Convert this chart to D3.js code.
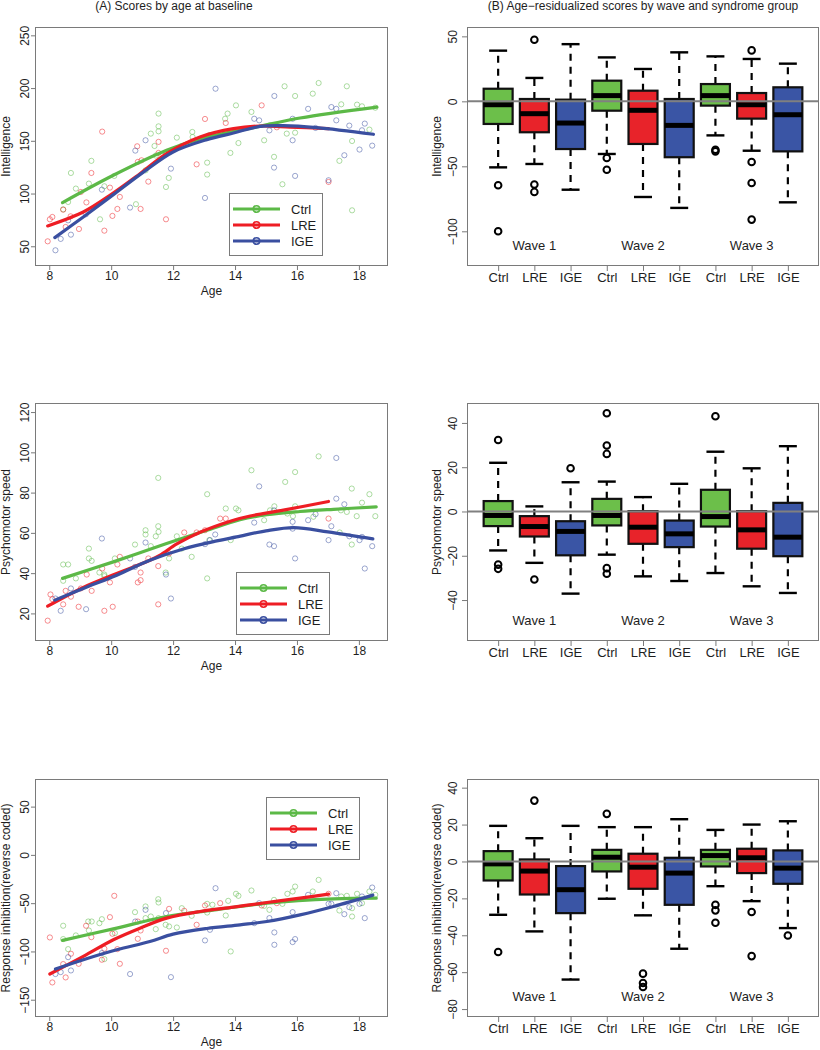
<!DOCTYPE html>
<html><head><meta charset="utf-8">
<script src="https://cdn.jsdelivr.net/npm/d3@7/dist/d3.min.js"></script>
<style>
html,body{margin:0;padding:0;background:#fff;}
svg{display:block;font-family:"Liberation Sans",Arial,sans-serif;}
</style></head><body>
<svg id="chart" width="820" height="1050"></svg>
<script>
// ---------------- DATA ----------------
const groups = ["Ctrl", "LRE", "IGE"];
const boxLabels = ["Ctrl","LRE","IGE","Ctrl","LRE","IGE","Ctrl","LRE","IGE"];
const waveLabels = ["Wave 1", "Wave 2", "Wave 3"];
const ageTicks = [8, 10, 12, 14, 16, 18];

// Panel A1: Intelligence  [age, score]
const intelCtrl = [[8.45,85],[8.61,92],[8.7,119.5],[8.86,104.7],[9.28,109.4],[9.36,131],[9.64,75.6],[9.78,106.9],[10.1,116.7],[10.8,89.9],[11.11,122],[11.28,156.8],[11.4,145.1],[11.44,136],[11.53,175.8],[11.53,163.7],[11.53,159],[11.77,106.2],[11.86,114.8],[12.12,153],[12.27,145],[12.62,158.4],[12.63,153.6],[13.1,129.3],[13.1,118],[13.16,155.2],[13.68,170.9],[13.76,175.8],[13.85,138.5],[14.03,183.6],[14.11,147.9],[14.53,177.4],[14.94,150.5],[15.13,164.7],[15.26,134.8],[15.53,108.8],[15.6,201.7],[15.67,156.8],[15.94,157.7],[15.94,192.5],[16.51,194.7],[16.7,204.8],[17.37,131],[17.43,184.6],[17.61,201.7],[17.78,149.8],[17.78,84.1],[17.94,184.3],[18.1,182.7],[18.34,160.6],[18.53,181.4]];
const intelLRE = [[7.95,54.7],[8.02,75.6],[8.1,77.8],[8.45,84.7],[8.53,68.3],[8.69,78.4],[8.96,66.4],[9.02,101.5],[9.2,91.6],[9.36,119.5],[9.71,158.7],[9.78,64.8],[9.96,105.6],[10.04,78.8],[10.2,85.4],[10.28,96.8],[10.84,144.8],[10.86,130],[10.95,85.4],[10.98,131.5],[11.2,111.3],[11.53,149],[11.53,138.5],[11.77,75.6],[11.87,139.8],[12.76,127.7],[13.03,170.7],[13.7,166.9],[14.86,183.6],[15.35,162.8],[17.02,111]];
const intelIGE = [[8.2,46.2],[8.37,57],[8.61,74.6],[8.7,61],[9.18,80.3],[9.7,103.7],[10.61,86.7],[10.78,140.7],[11.11,150.5],[11.77,138.5],[11.93,123.6],[13.03,95.8],[13.19,155.2],[13.37,199.4],[14.62,170.9],[14.78,169.4],[15.11,159.9],[15.27,192.5],[15.26,124.6],[15.86,170.9],[15.86,150.5],[15.94,116.7],[16.36,180.3],[16.6,162.2],[17.02,112.6],[17.11,182],[17.27,180.3],[17.27,169.4],[17.53,136.3],[17.69,164.4],[18.02,141.7],[18.1,160],[18.19,166.3],[18.43,145.4]];
const intelCtrlFit = [[8.43,91.4],[10.07,117.3],[11.79,141],[13.09,153.6],[14.6,162.5],[16.1,171.6],[18.58,182]];
const intelLREFit = [[7.95,69.3],[9.1,82.5],[9.96,98.3],[10.93,118.8],[11.79,137.8],[12.87,153.6],[13.95,161.5],[14.81,164],[15.78,163],[17.02,161.5]];
const intelIGEFit = [[8.18,58.2],[9.1,77.8],[10.07,99],[11.04,120.3],[12.0,139.4],[13.09,151.1],[13.95,157.4],[14.81,163.7],[15.56,164.4],[16.64,162.5],[18.47,156.2]];

// Panel A2: Psychomotor speed
const speedCtrl = [[8.45,36.2],[8.45,44.3],[8.61,44.3],[8.86,37.4],[9.28,52.2],[9.28,47.3],[9.37,46.1],[9.62,40.3],[9.78,39.3],[9.78,38.5],[10.12,47.3],[10.77,54.2],[11.11,61.3],[11.11,59.2],[11.28,53.4],[11.44,58.3],[11.52,63.3],[11.53,60.5],[11.52,87.3],[11.76,40.3],[11.87,47.3],[12.12,58.3],[12.28,52.2],[12.6,48.1],[13.1,79.2],[13.1,37.4],[13.17,56.4],[13.7,72.1],[14.03,72.1],[14.11,71.2],[13.86,56.4],[14.53,91.1],[14.94,66.3],[15.13,71.2],[15.27,73.2],[15.62,85.3],[15.69,69.6],[15.87,68.3],[15.94,90.2],[15.94,73.2],[16.53,68],[16.7,98],[17.38,60.2],[17.42,71.2],[17.61,70.4],[17.77,82],[17.77,54.2],[17.93,68.3],[18.1,75],[18.34,79.2],[18.53,68.3]];
const speedLRE = [[7.95,16.4],[8.04,29.4],[8.1,27.1],[8.45,24.5],[8.53,31.2],[8.7,28.3],[8.95,23.3],[9.02,32.4],[9.21,39.3],[9.37,31.2],[9.71,42.3],[9.78,21.3],[9.96,35.4],[10.05,23.3],[10.2,44.3],[10.28,48.1],[10.86,35.4],[10.95,40.3],[10.95,36.5],[11.2,47.3],[11.52,43.5],[11.52,24.5],[11.87,49.8],[12.36,60.2],[12.76,60.2],[13.03,61.3],[13.52,67.1],[13.7,67.1],[17.02,67.1]];
const speedIGE = [[8.2,27.4],[8.37,21.3],[8.7,32.4],[9.19,22.1],[9.7,57.2],[10.61,47.3],[10.77,43.1],[11.11,55.2],[11.77,39.3],[11.93,27.4],[13.03,54.4],[13.19,56.4],[13.36,59.2],[14.62,65.1],[14.78,83.1],[15.11,54.2],[15.26,53.4],[15.26,71.2],[15.86,65.5],[15.86,62.1],[15.94,47.3],[16.36,66.3],[16.6,69.3],[17.02,56.4],[17.11,63.3],[17.27,77],[17.27,97.2],[17.53,74.2],[17.69,58.3],[18.02,56.4],[18.1,58],[18.19,42.3],[18.43,53.4]];
const speedCtrlFit = [[8.43,37.4],[10.07,45.6],[11.79,54.7],[13.09,61.3],[14.16,66.5],[15.03,69],[16.1,70.6],[17.18,71.7],[18.56,72.9]];
const speedLREFit = [[7.95,23.6],[9.1,32.9],[10.18,39.8],[11.25,46.4],[11.58,48.9],[12.12,54.5],[12.87,60.3],[13.95,66.3],[14.49,68.4],[15.56,71.3],[17.02,75.6]];
const speedIGEFit = [[8.18,26.6],[9.1,32.4],[10.18,39],[11.25,46.4],[12.33,52],[13.41,56],[14.05,58],[15.0,61],[15.9,62.6],[17.0,60.5],[18.45,57]];

// Panel A3: Response inhibition (reverse coded)
const inhibCtrl = [[8.45,-73.4],[8.45,-87.2],[8.61,-97.6],[8.86,-83.4],[9.26,-69],[9.37,-69],[9.28,-78.3],[9.62,-70.7],[9.7,-66.6],[9.78,-107.9],[10.12,-81],[10.77,-59.3],[11.11,-53.4],[11.11,-65.5],[11.28,-63.8],[11.44,-76.9],[11.52,-45.9],[11.53,-49.3],[11.53,-65.5],[11.76,-72.4],[11.87,-74.1],[12.12,-75.2],[12.28,-55.2],[12.6,-63.1],[13.1,-59.7],[13.1,-50.7],[13.27,-51.7],[13.7,-62.8],[13.78,-47.6],[13.86,-100],[14.03,-40.3],[14.11,-42.4],[14.53,-36.9],[14.94,-52.8],[15.11,-56.9],[15.26,-46.6],[15.53,-50.7],[15.69,-40.3],[15.86,-37.9],[15.94,-32.8],[16.51,-37.9],[16.7,-25.9],[17.37,-57.6],[17.43,-43.1],[17.61,-42.4],[17.78,-55.2],[17.78,-63.8],[17.94,-40.3],[18.1,-50],[18.34,-37.9],[18.53,-41.4]];
const inhibLRE = [[8.02,-85.5],[8.1,-132.1],[8.45,-113.1],[8.53,-126.9],[8.7,-102.4],[8.95,-112.8],[9.19,-73.4],[9.36,-85.2],[9.7,-108.6],[9.78,-97.2],[9.96,-64.5],[10.04,-81.7],[10.1,-42.4],[10.2,-97.6],[10.28,-112.8],[10.86,-86.9],[10.86,-69],[10.95,-78.3],[11.77,-99.3],[11.87,-55.9],[12.36,-57.9],[12.76,-72.4],[13.03,-52.4],[13.52,-50],[14.86,-52.4],[15.35,-50],[17.02,-40.3]];
const inhibIGE = [[8.2,-123.4],[8.37,-121.4],[8.61,-105.9],[8.7,-119.7],[9.7,-101.7],[10.61,-123.4],[10.78,-69],[11.11,-56.9],[11.77,-60.3],[11.93,-126.6],[13.03,-88.6],[13.19,-77.6],[13.37,-34.5],[14.62,-70.7],[14.78,-50],[15.11,-65.5],[15.27,-80.3],[15.27,-93.1],[15.86,-59.3],[15.86,-90.3],[15.94,-87.2],[16.36,-41.4],[17.02,-50.7],[17.11,-50.7],[17.27,-39.7],[17.53,-61.4],[17.69,-54.1],[18.02,-50.7],[18.1,-43.1],[18.19,-65.5],[18.43,-33.8]];
const inhibCtrlFit = [[8.43,-88.6],[10.07,-76.6],[11.79,-63.8],[13.09,-58],[15.03,-50],[17.18,-45.5],[18.56,-44.8]];
const inhibLREFit = [[8.02,-123.4],[9.1,-105.2],[10.07,-87.9],[10.93,-75.9],[11.79,-65.5],[12.87,-58.6],[13.95,-54.1],[15.03,-49.3],[16.1,-44.8],[17.02,-40.7]];
const inhibIGEFit = [[8.2,-118.3],[9.1,-108.6],[10.18,-98.3],[11.25,-89.7],[12.0,-82.1],[13.09,-76.2],[14.16,-72.4],[15.03,-69],[16.1,-62.1],[17.18,-53.4],[18.45,-41.7]];

// Panel B boxplot stats per box: [lowerWhisker, Q1, median, Q3, upperWhisker]
const intelBox = [[-50.8,-17.4,-2.6,9.7,39],[-48.2,-23.8,-9.5,1.8,18],[-68,-36.7,-16.7,1.3,44],[-40.5,-7.2,4.4,15.9,33.8],[-73.6,-32.8,-6.9,8.2,24.9],[-82,-43,-18.5,1.8,37.7],[-26.2,-3.3,4.4,13.3,34.6],[-38,-13.3,-2.6,6.4,32.6],[-77.7,-38.5,-10.3,10.8,29]];
const intelOut = [[1,-64.6],[1,-100],[2,47.4],[2,-64],[2,-69.7],[4,-43.6],[4,-52.6],[7,-37.2],[7,-38.5],[8,39.2],[8,-46.7],[8,-62.8],[8,-91]];
const speedBox = [[-17.6,-6.6,-1.8,4.7,22],[-23.2,-11.3,-6.8,-2.1,2.3],[-37.1,-19.8,-9,-4.4,13.2],[-19.5,-6.3,-1.8,5.7,13.5],[-29.3,-14.6,-7.1,0.15,6.5],[-31.4,-16.1,-10.1,-4.1,12.5],[-27.8,-6.8,-2.3,9.8,27],[-33.8,-16.8,-8.3,0.15,19.5],[-36.8,-20.2,-11.6,3.9,29.5]];
const speedOut = [[1,32.3],[1,-24],[1,-25.9],[2,-30.7],[3,19.5],[4,44.4],[4,29.8],[4,26],[4,-25.6],[4,-28.1],[7,43]];
const inhibBox = [[-28.9,-10.3,-1.3,5.6,19.3],[-37.9,-17.9,-5.2,1.1,12.6],[-64,-28,-15.3,-2.5,19.3],[-20.2,-5.4,2.3,6.3,18.6],[-29.2,-14.8,-3.1,4.2,18.6],[-47.3,-23.5,-6.3,2,22.9],[-13.4,-2.7,3.2,6.3,17.1],[-21.5,-6.3,2,6.9,20],[-36.1,-12.1,-3.6,6,21.8]];
const inhibOut = [[1,-49.1],[2,33],[4,25.8],[5,-60.8],[5,-65.9],[5,-68],[7,-23.5],[7,-26.5],[7,-33.2],[8,-27.4],[8,-51.3],[9,-40.1]];

// ---------------- STYLE / LAYOUT ----------------
const lineColors = {Ctrl:"#5cb947", LRE:"#ee1d24", IGE:"#3a4fa0"};
const boxFills = ["#6cbf4a","#e8232a","#3a55a5"];
const frameColor = "#7a7a7a";
const textColor = "#1e1e1e";
const fontSize = 12;

const svg = d3.select("#chart");

const colA = {left:35, right:388};
const colB = {left:467, right:819};
const rows = [{top:27, bottom:266},{top:403, bottom:641},{top:779, bottom:1017}];

svg.append("text").attr("x",174).attr("y",10).attr("text-anchor","middle")
  .attr("font-size",fontSize).attr("fill",textColor).text("(A) Scores by age at baseline");
svg.append("text").attr("x",643).attr("y",10).attr("text-anchor","middle")
  .attr("font-size",fontSize).attr("fill",textColor).text("(B) Age\u2212residualized scores by wave and syndrome group");

function frame(g, x0, x1, y0, y1){
  g.append("rect").attr("x",x0+0.5).attr("y",y0+0.5).attr("width",x1-x0-1).attr("height",y1-y0-1)
   .attr("fill","none").attr("stroke",frameColor).attr("stroke-width",1);
}

function yAxis(g, y, x0, ticks, tickLen, labelOff){
  const ax = g.append("g").attr("transform",`translate(${x0},0)`)
    .call(d3.axisLeft(y).tickValues(ticks).tickSize(tickLen).tickFormat(d3.format("d")));
  ax.select(".domain").remove();
  ax.selectAll(".tick line").attr("stroke",frameColor);
  ax.selectAll(".tick text").attr("x",0).attr("y",-labelOff).attr("dy",0)
    .attr("transform","rotate(-90)").attr("text-anchor","middle")
    .attr("font-size",fontSize).attr("fill",textColor).attr("font-family",null);
}

function yTitle(g, x, yc, text){
  g.append("text").attr("transform",`translate(${x},${yc}) rotate(-90)`)
    .attr("text-anchor","middle").attr("font-size",fontSize).attr("fill",textColor).text(text);
}

function scatterPanel(row, yDomain, yTicks, yLabel, series, legendPos){
  const g = svg.append("g");
  const x = d3.scaleLinear().domain([7.54, 18.94]).range([colA.left, colA.right]);
  const y = d3.scaleLinear().domain(yDomain).range([row.bottom, row.top]);

  series.forEach(s => {
    g.append("g").selectAll("circle").data(s.pts).join("circle")
      .attr("cx", d => x(d[0])).attr("cy", d => y(d[1])).attr("r", 2.6)
      .attr("fill","none").attr("stroke", lineColors[s.name]).attr("stroke-opacity",0.5).attr("stroke-width",1);
  });
  const line = d3.line().x(d => x(d[0])).y(d => y(d[1])).curve(d3.curveCatmullRom.alpha(0.5));
  series.forEach(s => {
    g.append("path").datum(s.fit).attr("d", line).attr("fill","none")
      .attr("stroke", lineColors[s.name]).attr("stroke-width",3.2).attr("stroke-linecap","round");
  });
  frame(g, colA.left, colA.right, row.top, row.bottom);

  const ax = g.append("g").attr("transform",`translate(0,${row.bottom})`)
    .call(d3.axisBottom(x).tickValues(ageTicks).tickSize(4).tickPadding(1.5).tickFormat(d3.format("d")));
  ax.select(".domain").remove();
  ax.selectAll(".tick line").attr("stroke",frameColor);
  ax.selectAll(".tick text").attr("font-size",fontSize).attr("fill",textColor).attr("font-family",null);
  g.append("text").attr("x",(colA.left+colA.right)/2).attr("y",row.bottom+29).attr("text-anchor","middle")
    .attr("font-size",fontSize).attr("fill",textColor).text("Age");

  yAxis(g, y, colA.left, yTicks, 4, 6);
  yTitle(g, 10, (row.top+row.bottom)/2, yLabel);

  const lg = g.append("g").attr("transform",`translate(${legendPos[0]},${legendPos[1]})`);
  lg.append("rect").attr("x",0.5).attr("y",0.5).attr("width",93).attr("height",62)
    .attr("fill","#fff").attr("stroke",frameColor);
  groups.forEach((name,i) => {
    const yy = 16 + i*16;
    lg.append("line").attr("x1",4).attr("x2",51).attr("y1",yy).attr("y2",yy)
      .attr("stroke",lineColors[name]).attr("stroke-width",3);
    lg.append("circle").attr("cx",27.5).attr("cy",yy).attr("r",3.2).attr("fill","none")
      .attr("stroke",lineColors[name]).attr("stroke-width",1.6);
    lg.append("text").attr("x",62).attr("y",yy+4.5).attr("font-size",fontSize+1).attr("fill",textColor).text(name);
  });
}

function boxPanel(row, yDomain, yTicks, yLabel, stats, outliers){
  const g = svg.append("g");
  const x = d3.scaleLinear().domain([0.14, 9.86]).range([colB.left, colB.right]);
  const y = d3.scaleLinear().domain(yDomain).range([row.bottom, row.top]);
  const bw = x(0.8) - x(0);
  const cw = bw * 0.62;

  stats.forEach((s,i) => {
    const cx = x(i+1);
    g.append("line").attr("x1",cx).attr("x2",cx).attr("y1",y(s[3])).attr("y2",y(s[4]))
      .attr("stroke","#000").attr("stroke-width",2.2).attr("stroke-dasharray","7,6");
    g.append("line").attr("x1",cx).attr("x2",cx).attr("y1",y(s[1])).attr("y2",y(s[0]))
      .attr("stroke","#000").attr("stroke-width",2.2).attr("stroke-dasharray","7,6");
    [s[0], s[4]].forEach(v => {
      g.append("line").attr("x1",cx-cw/2).attr("x2",cx+cw/2).attr("y1",y(v)).attr("y2",y(v))
        .attr("stroke","#000").attr("stroke-width",2.4);
    });
    g.append("rect").attr("x",cx-bw/2).attr("y",y(s[3])).attr("width",bw).attr("height",y(s[1])-y(s[3]))
      .attr("fill",boxFills[i%3]).attr("stroke","#111").attr("stroke-width",2.2);
    g.append("line").attr("x1",cx-bw/2).attr("x2",cx+bw/2).attr("y1",y(s[2])).attr("y2",y(s[2]))
      .attr("stroke","#000").attr("stroke-width",5);
  });
  g.append("g").selectAll("circle").data(outliers).join("circle")
    .attr("cx",d => x(d[0])).attr("cy",d => y(d[1])).attr("r",3.3)
    .attr("fill","none").attr("stroke","#000").attr("stroke-width",2);

  g.append("line").attr("x1",colB.left).attr("x2",colB.right).attr("y1",y(0)).attr("y2",y(0))
    .attr("stroke","#808080").attr("stroke-width",2);

  frame(g, colB.left, colB.right, row.top, row.bottom);

  waveLabels.forEach((w,i) => {
    g.append("text").attr("x",x(2+3*i)).attr("y",row.bottom-16).attr("text-anchor","middle")
      .attr("font-size",fontSize+1).attr("fill",textColor).text(w);
  });

  const ax = g.append("g").attr("transform",`translate(0,${row.bottom})`)
    .call(d3.axisBottom(x).tickValues(d3.range(1,10)).tickSize(5).tickPadding(2).tickFormat((d,i) => boxLabels[i]));
  ax.select(".domain").remove();
  ax.selectAll(".tick line").attr("stroke",frameColor);
  ax.selectAll(".tick text").attr("font-size",fontSize+1).attr("fill",textColor).attr("font-family",null);

  yAxis(g, y, colB.left, yTicks, 5, 10);
  yTitle(g, 441, (row.top+row.bottom)/2, yLabel);
}

scatterPanel(rows[0], [31.3, 257.9], [50,100,150,200,250], "Intelligence",
  [{name:"Ctrl",pts:intelCtrl,fit:intelCtrlFit},{name:"LRE",pts:intelLRE,fit:intelLREFit},{name:"IGE",pts:intelIGE,fit:intelIGEFit}],
  [229,193]);
scatterPanel(rows[1], [6.3, 124.5], [20,40,60,80,100,120], "Psychomotor speed",
  [{name:"Ctrl",pts:speedCtrl,fit:speedCtrlFit},{name:"LRE",pts:speedLRE,fit:speedLREFit},{name:"IGE",pts:speedIGE,fit:speedIGEFit}],
  [236,572]);
scatterPanel(rows[2], [-167.9, 78.6], [-150,-100,-50,0,50], "Response inhibition(reverse coded)",
  [{name:"Ctrl",pts:inhibCtrl,fit:inhibCtrlFit},{name:"LRE",pts:inhibLRE,fit:inhibLREFit},{name:"IGE",pts:inhibIGE,fit:inhibIGEFit}],
  [266,797]);

boxPanel(rows[0], [-126.7, 57.2], [-100,-50,0,50], "Intelligence", intelBox, intelOut);
boxPanel(rows[1], [-58.5, 49], [-40,-20,0,20,40], "Psychomotor speed", speedBox, speedOut);
boxPanel(rows[2], [-84.3, 44.7], [-80,-60,-40,-20,0,20,40], "Response inhibition(reverse coded)", inhibBox, inhibOut);
</script>
</body></html>
